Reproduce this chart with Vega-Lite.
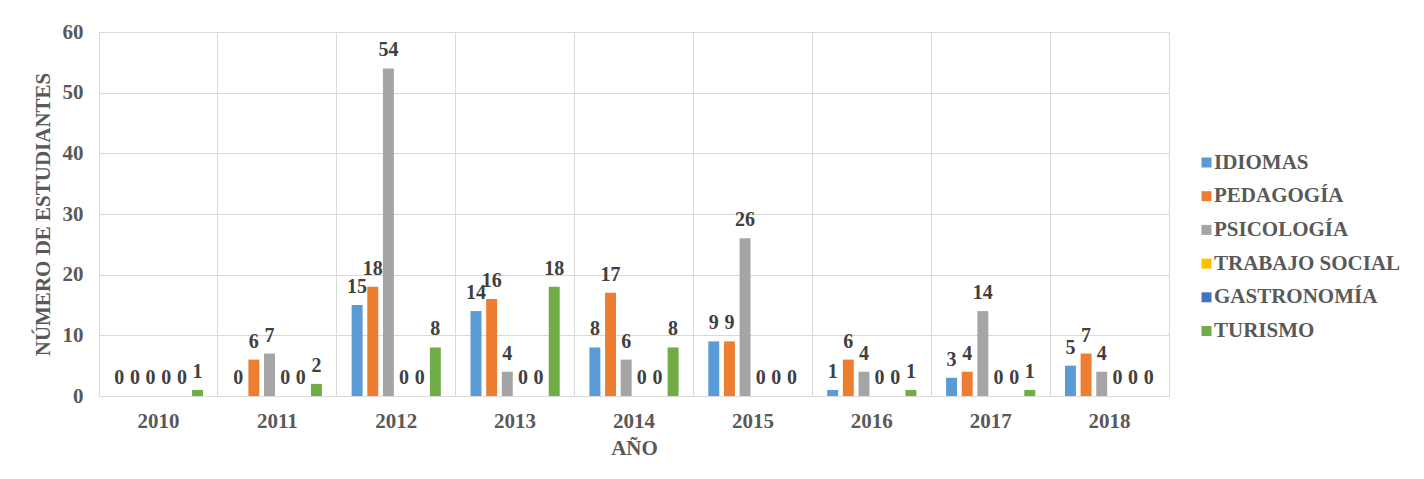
{
  "$schema": "https://vega.github.io/schema/vega-lite/v6.json",
  "width": 1070,
  "height": 364,
  "autosize": {"type": "none"},
  "padding": {"left": 99, "top": 32, "right": 255, "bottom": 83},
  "background": "white",
  "config": {
    "font": "'Liberation Serif', 'Times New Roman', serif",
    "view": {"stroke": "#d9d9d9", "strokeWidth": 1}
  },
  "data": {
    "values": [
      {"anio": "2010", "carrera": "IDIOMAS", "n": 0},
      {"anio": "2010", "carrera": "PEDAGOGÍA", "n": 0},
      {"anio": "2010", "carrera": "PSICOLOGÍA", "n": 0},
      {"anio": "2010", "carrera": "TRABAJO SOCIAL", "n": 0},
      {"anio": "2010", "carrera": "GASTRONOMÍA", "n": 0},
      {"anio": "2010", "carrera": "TURISMO", "n": 1},
      {"anio": "2011", "carrera": "IDIOMAS", "n": 0},
      {"anio": "2011", "carrera": "PEDAGOGÍA", "n": 6},
      {"anio": "2011", "carrera": "PSICOLOGÍA", "n": 7},
      {"anio": "2011", "carrera": "TRABAJO SOCIAL", "n": 0},
      {"anio": "2011", "carrera": "GASTRONOMÍA", "n": 0},
      {"anio": "2011", "carrera": "TURISMO", "n": 2},
      {"anio": "2012", "carrera": "IDIOMAS", "n": 15},
      {"anio": "2012", "carrera": "PEDAGOGÍA", "n": 18},
      {"anio": "2012", "carrera": "PSICOLOGÍA", "n": 54},
      {"anio": "2012", "carrera": "TRABAJO SOCIAL", "n": 0},
      {"anio": "2012", "carrera": "GASTRONOMÍA", "n": 0},
      {"anio": "2012", "carrera": "TURISMO", "n": 8},
      {"anio": "2013", "carrera": "IDIOMAS", "n": 14},
      {"anio": "2013", "carrera": "PEDAGOGÍA", "n": 16},
      {"anio": "2013", "carrera": "PSICOLOGÍA", "n": 4},
      {"anio": "2013", "carrera": "TRABAJO SOCIAL", "n": 0},
      {"anio": "2013", "carrera": "GASTRONOMÍA", "n": 0},
      {"anio": "2013", "carrera": "TURISMO", "n": 18},
      {"anio": "2014", "carrera": "IDIOMAS", "n": 8},
      {"anio": "2014", "carrera": "PEDAGOGÍA", "n": 17},
      {"anio": "2014", "carrera": "PSICOLOGÍA", "n": 6},
      {"anio": "2014", "carrera": "TRABAJO SOCIAL", "n": 0},
      {"anio": "2014", "carrera": "GASTRONOMÍA", "n": 0},
      {"anio": "2014", "carrera": "TURISMO", "n": 8},
      {"anio": "2015", "carrera": "IDIOMAS", "n": 9},
      {"anio": "2015", "carrera": "PEDAGOGÍA", "n": 9},
      {"anio": "2015", "carrera": "PSICOLOGÍA", "n": 26},
      {"anio": "2015", "carrera": "TRABAJO SOCIAL", "n": 0},
      {"anio": "2015", "carrera": "GASTRONOMÍA", "n": 0},
      {"anio": "2015", "carrera": "TURISMO", "n": 0},
      {"anio": "2016", "carrera": "IDIOMAS", "n": 1},
      {"anio": "2016", "carrera": "PEDAGOGÍA", "n": 6},
      {"anio": "2016", "carrera": "PSICOLOGÍA", "n": 4},
      {"anio": "2016", "carrera": "TRABAJO SOCIAL", "n": 0},
      {"anio": "2016", "carrera": "GASTRONOMÍA", "n": 0},
      {"anio": "2016", "carrera": "TURISMO", "n": 1},
      {"anio": "2017", "carrera": "IDIOMAS", "n": 3},
      {"anio": "2017", "carrera": "PEDAGOGÍA", "n": 4},
      {"anio": "2017", "carrera": "PSICOLOGÍA", "n": 14},
      {"anio": "2017", "carrera": "TRABAJO SOCIAL", "n": 0},
      {"anio": "2017", "carrera": "GASTRONOMÍA", "n": 0},
      {"anio": "2017", "carrera": "TURISMO", "n": 1},
      {"anio": "2018", "carrera": "IDIOMAS", "n": 5},
      {"anio": "2018", "carrera": "PEDAGOGÍA", "n": 7},
      {"anio": "2018", "carrera": "PSICOLOGÍA", "n": 4},
      {"anio": "2018", "carrera": "TRABAJO SOCIAL", "n": 0},
      {"anio": "2018", "carrera": "GASTRONOMÍA", "n": 0},
      {"anio": "2018", "carrera": "TURISMO", "n": 0}
    ]
  },
  "encoding": {
    "x": {
      "field": "anio",
      "type": "nominal",
      "scale": {"paddingInner": 0, "paddingOuter": 0},
      "axis": {
        "title": "AÑO",
        "labelAngle": 0,
        "labelFont": "'Liberation Serif', 'Times New Roman', serif",
        "labelFontWeight": "bold",
        "labelFontSize": 21,
        "labelColor": "#595959",
        "labelPadding": 14,
        "titleFont": "'Liberation Serif', 'Times New Roman', serif",
        "titleFontWeight": "bold",
        "titleFontSize": 21,
        "titleColor": "#595959",
        "titlePadding": 6,
        "ticks": false,
        "domainColor": "#d9d9d9",
        "grid": true,
        "gridColor": "#d9d9d9",
        "bandPosition": 0
      }
    },
    "xOffset": {
      "field": "carrera",
      "type": "nominal",
      "sort": ["IDIOMAS", "PEDAGOGÍA", "PSICOLOGÍA", "TRABAJO SOCIAL", "GASTRONOMÍA", "TURISMO"],
      "scale": {"paddingInner": 0.3, "paddingOuter": 0.95}
    }
  },
  "layer": [
    {
      "mark": {"type": "bar"},
      "encoding": {
        "y": {
          "field": "n",
          "type": "quantitative",
          "scale": {"domain": [0, 60], "nice": false},
          "axis": {
            "title": "NÚMERO DE ESTUDIANTES",
            "values": [0, 10, 20, 30, 40, 50, 60],
            "labelFont": "'Liberation Serif', 'Times New Roman', serif",
            "labelFontWeight": "bold",
            "labelFontSize": 21,
            "labelColor": "#595959",
            "labelPadding": 16,
            "titleFont": "'Liberation Serif', 'Times New Roman', serif",
            "titleFontWeight": "bold",
            "titleFontSize": 21,
            "titleColor": "#595959",
            "titlePadding": 9,
            "ticks": false,
            "domain": false,
            "gridColor": "#d9d9d9"
          }
        },
        "color": {
          "field": "carrera",
          "type": "nominal",
          "sort": ["IDIOMAS", "PEDAGOGÍA", "PSICOLOGÍA", "TRABAJO SOCIAL", "GASTRONOMÍA", "TURISMO"],
          "scale": {
            "domain": ["IDIOMAS", "PEDAGOGÍA", "PSICOLOGÍA", "TRABAJO SOCIAL", "GASTRONOMÍA", "TURISMO"],
            "range": ["#5B9BD5", "#ED7D31", "#A5A5A5", "#FFC000", "#4472C4", "#70AD47"]
          },
          "legend": {
            "title": null,
            "orient": "none",
            "legendX": 1097,
            "legendY": 120,
            "symbolType": "square",
            "symbolSize": 100,
            "symbolStrokeWidth": 0,
            "labelFont": "'Liberation Serif', 'Times New Roman', serif",
            "labelFontWeight": "bold",
            "labelFontSize": 21,
            "labelColor": "#595959",
            "labelOffset": -3,
            "rowPadding": 11.7,
            "labelLimit": 300
          }
        }
      }
    },
    {
      "mark": {"type": "text", "baseline": "alphabetic", "dy": -12, "font": "'Liberation Serif', 'Times New Roman', serif", "fontWeight": "bold", "fontSize": 20, "color": "#404040"},
      "encoding": {
        "y": {"field": "n", "type": "quantitative"},
        "text": {"field": "n", "type": "quantitative"}
      }
    }
  ]
}
